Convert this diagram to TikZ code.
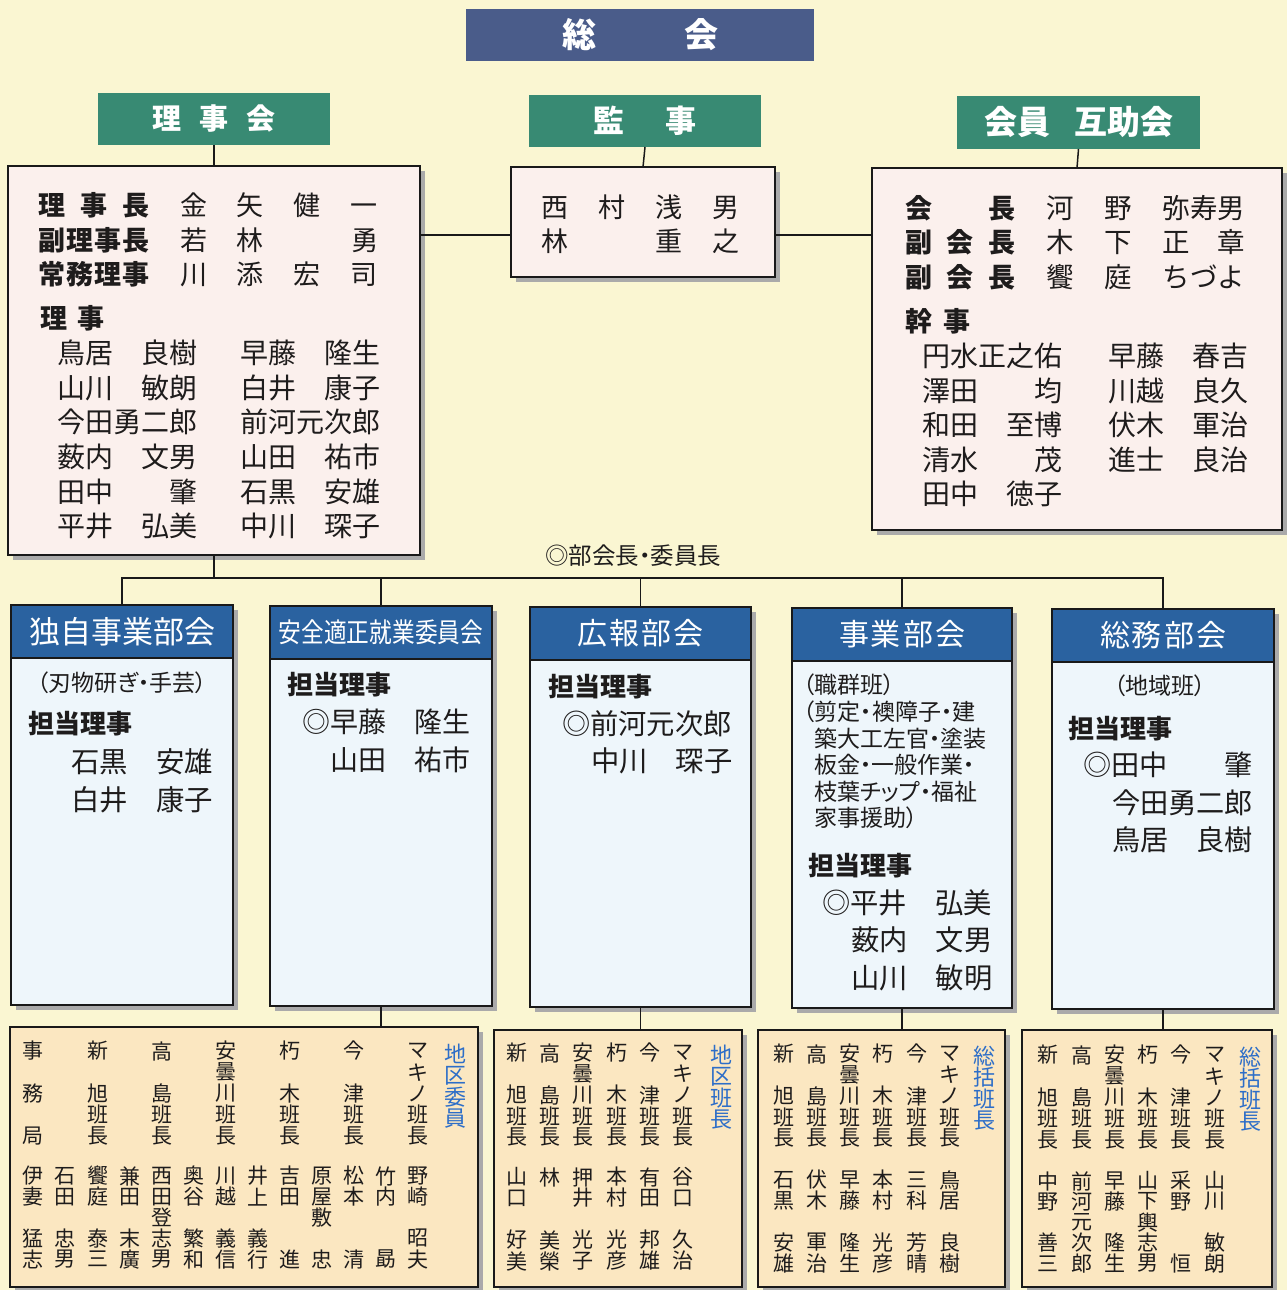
\documentclass[tikz,border=0pt]{standalone}
\usepackage{fontspec}
\newfontfamily\jp{Noto Sans CJK JP}
\newfontfamily\jpp[RawFeature=+palt]{Noto Sans CJK JP}
\usetikzlibrary{calc,shadows}
\definecolor{ink}{RGB}{30,28,28}
\definecolor{bg}{RGB}{250,246,210}
\definecolor{navy}{RGB}{74,92,138}
\definecolor{teal}{RGB}{56,138,115}
\definecolor{pinkf}{RGB}{251,240,237}
\definecolor{blueh}{RGB}{42,98,160}
\definecolor{bluef}{RGB}{238,246,251}
\definecolor{peach}{RGB}{251,231,193}
\definecolor{bluetxt}{RGB}{45,110,200}
\definecolor{shadowc}{RGB}{170,170,170}
\definecolor{linec}{RGB}{25,25,25}
\newcommand\fs[1]{\fontsize{#1}{#1}\selectfont}
\newcommand\spr[2]{\hbox to #1{#2}}
\newcommand\rbox[6][]{\node[#1, anchor=north west, inner sep=0pt, outer sep=0pt, minimum width={(#5-#3)*1pt}, minimum height={(#6-#4)*1pt}] (#2) at (#3,#4) {};}
\newcommand\vcolumn[6]{\foreach \vc [count=\vi from 0] in {#6}{\node[#2] (#1-\vi) at ({#3},{#4+\vi*#5}) {\vc};}}
\begin{document}
\begin{tikzpicture}[x=1pt,y=-1pt,
  every node/.style={inner sep=0pt, outer sep=0pt},
  headbox/.style={fill=#1},
  memberbox/.style={fill=pinkf, draw=linec, line width=1.8pt, general shadow={fill=shadowc, shadow xshift=5pt, shadow yshift=-5pt}},
  deptbody/.style={fill=bluef, draw=linec, line width=1.8pt, general shadow={fill=shadowc, shadow xshift=5pt, shadow yshift=-5pt}},
  depthead/.style={fill=blueh, draw=linec, line width=1.8pt},
  areabox/.style={fill=peach, draw=linec, line width=1.8pt, general shadow={fill=shadowc, shadow xshift=5pt, shadow yshift=-5pt}},
  conn/.style={draw=linec, line width=1.5pt},
  toptxt/.style={text=white, font=\jp\bfseries},
  headtxt/.style={text=white, font=\jp},
  lbl/.style={anchor=west, text=ink, font=\jp\bfseries\fs{27}},
  nm/.style={anchor=west, text=ink, font=\jp\fs{28}},
  small/.style={anchor=west, text=ink, font=\jpp\fs{23}},
  vch/.style={text=ink, font=\jp\fs{21}},
  vbl/.style={text=bluetxt, font=\jp\fs{22}}]
\path[use as bounding box, fill=bg] (0,0) rectangle (1287,1290);

% ---- top headers
\rbox[headbox=navy]{gs}{466}{9}{814}{61}
\node[toptxt] (gst) at (gs.center) {\fs{34}\spr{156pt}{総\hfil 会}};
\rbox[headbox=teal]{rjk}{98}{93}{330}{145}
\node[toptxt] (rjkt) at (rjk.center) {\fs{29}\spr{123pt}{理\hfil 事\hfil 会}};
\rbox[headbox=teal]{kj}{529}{95}{761}{147}
\node[toptxt] (kjt) at (kj.center) {\fs{31}\spr{103pt}{監\hfil 事}};
\rbox[headbox=teal]{gk}{957}{96}{1200}{149}
\node[toptxt] (gkt) at (gk.center) {\fs{33}会員\hspace{24pt}互助会};

% ---- member boxes
\rbox[memberbox]{rjb}{8}{166}{420}{555}
\rbox[memberbox]{kjb}{511}{167}{775}{277}
\rbox[memberbox]{gkb}{872}{168}{1282}{530}

\draw[conn] (rjk.south) -- (rjb.north);
\draw[conn] (kj.south) -- (kjb.north);
\draw[conn] (gk.south) -- (gkb.north);
\coordinate (hl) at (0,235);
\draw[conn] (rjb.east |- hl) -- (kjb.west |- hl);
\draw[conn] (kjb.east |- hl) -- (gkb.west |- hl);

% 理事会 text
\node[lbl] (r1) at (38,205) {\spr{112pt}{理\hfil 事\hfil 長}};
\node[lbl] (r2) at (38,240) {\spr{112pt}{副\hfil 理\hfil 事\hfil 長}};
\node[lbl] (r3) at (38,274) {\spr{112pt}{常\hfil 務\hfil 理\hfil 事}};
\node[nm,font=\jp\fs{27}] (r1n) at (180,205) {\spr{198pt}{金\hfil 矢\hfil 健\hfil 一}};
\node[nm,font=\jp\fs{27}] (r2n) at (180,240) {\spr{198pt}{若\hfil 林\hfil \phantom{林}\hfil 勇}};
\node[nm,font=\jp\fs{27}] (r3n) at (180,274) {\spr{198pt}{川\hfil 添\hfil 宏\hfil 司}};
\node[lbl] (r4) at (40,318) {\spr{65pt}{理\hfil 事}};
\node[nm] (ra1) at (57,353) {鳥居　良樹};
\node[nm] (ra2) at (57,388) {山川　敏朗};
\node[nm] (ra3) at (57,422) {今田勇二郎};
\node[nm] (ra4) at (57,457) {薮内　文男};
\node[nm] (ra5) at (57,492) {田中　　肇};
\node[nm] (ra6) at (57,526) {平井　弘美};
\node[nm] (rb1) at (240,353) {早藤　隆生};
\node[nm] (rb2) at (240,388) {白井　康子};
\node[nm] (rb3) at (240,422) {前河元次郎};
\node[nm] (rb4) at (240,457) {山田　祐市};
\node[nm] (rb5) at (240,492) {石黒　安雄};
\node[nm] (rb6) at (240,526) {中川　琛子};

% 監事 text
\node[nm,font=\jp\fs{27}] (k1) at (541,207) {\spr{199pt}{西\hfil 村\hfil 浅\hfil 男}};
\node[nm,font=\jp\fs{27}] (k2) at (541,241) {\spr{199pt}{林\hfil \phantom{村}\hfil 重\hfil 之}};

% 互助会 text
\node[lbl] (g1) at (905,208) {\spr{110pt}{会\hfil 長}};
\node[lbl] (g2) at (905,242) {\spr{110pt}{副\hfil 会\hfil 長}};
\node[lbl] (g3) at (905,277) {\spr{110pt}{副\hfil 会\hfil 長}};
\node[nm,font=\jp\fs{27.5}] (g1n) at (1046,208) {\spr{58pt}{河\hfil}\spr{59pt}{野\hfil}弥寿男};
\node[nm,font=\jp\fs{27.5}] (g2n) at (1046,242) {\spr{58pt}{木\hfil}\spr{59pt}{下\hfil}正　章};
\node[nm,font=\jp\fs{27.5}] (g3n) at (1046,277) {\spr{58pt}{饗\hfil}\spr{59pt}{庭\hfil}ちづよ};
\node[lbl] (g4) at (905,321) {\spr{65pt}{幹\hfil 事}};
\node[nm] (ga1) at (922,356) {円水正之佑};
\node[nm] (ga2) at (922,391) {澤田　　均};
\node[nm] (ga3) at (922,425) {和田　至博};
\node[nm] (ga4) at (922,460) {清水　　茂};
\node[nm] (ga5) at (922,494) {田中　徳子};
\node[nm] (gb1) at (1108,356) {早藤　春吉};
\node[nm] (gb2) at (1108,391) {川越　良久};
\node[nm] (gb3) at (1108,425) {伏木　軍治};
\node[nm] (gb4) at (1108,460) {進士　良治};

\node[anchor=west, text=ink, font=\jpp\fs{23.5}] (note) at (545,556) {◎部会長・委員長};

% ---- departments
\rbox[deptbody]{d1}{11}{605}{233}{1005}
\rbox[deptbody]{d2}{270}{606}{492}{1006}
\rbox[deptbody]{d3}{530}{607}{751}{1007}
\rbox[deptbody]{d4}{792}{608}{1012}{1008}
\rbox[deptbody]{d5}{1052}{609}{1274}{1009}
\rbox[depthead]{d1h}{11}{605}{233}{658}
\rbox[depthead]{d2h}{270}{606}{492}{659}
\rbox[depthead]{d3h}{530}{607}{751}{660}
\rbox[depthead]{d4h}{792}{608}{1012}{661}
\rbox[depthead]{d5h}{1052}{609}{1274}{662}
\node[headtxt] (d1t) at (d1h.center) {\fs{31}独自事業部会};
\node[headtxt,xscale=0.84] (d2t) at (d2h.center) {\fs{27}安全適正就業委員会};
\node[headtxt] (d3t) at (d3h.center) {\fs{30}\spr{126pt}{広\hfil 報\hfil 部\hfil 会}};
\node[headtxt] (d4t) at (d4h.center) {\fs{30}\spr{126pt}{事\hfil 業\hfil 部\hfil 会}};
\node[headtxt] (d5t) at (d5h.center) {\fs{30}\spr{126pt}{総\hfil 務\hfil 部\hfil 会}};

\coordinate (bus) at (0,578);
\draw[conn] (rjb.south) -- (rjb.south |- bus);
\draw[conn] (d1.north) -- (d1.north |- bus) -- (d5.north |- bus) -- (d5.north);
\draw[conn] (d2.north) -- (d2.north |- bus);
\draw[conn] (d3.north) -- (d3.north |- bus);
\draw[conn] (d4.north) -- (d4.north |- bus);

% d1
\node[small, anchor=center] (d1a) at (122,683) {（刃物研ぎ・手芸）};
\node[lbl,font=\jp\bfseries\fs{26}] (d1b) at (28,724) {担当理事};
\node[nm,font=\jp\fs{28.4}] (d1c) at (71,762) {石黒　安雄};
\node[nm,font=\jp\fs{28.4}] (d1d) at (71,800) {白井　康子};
% d2
\node[lbl,font=\jp\bfseries\fs{26}] (d2b) at (287,685) {担当理事};
\node[nm] (d2c) at (302,722) {◎早藤　隆生};
\node[nm] (d2d) at (330,760) {山田　祐市};
% d3
\node[lbl,font=\jp\bfseries\fs{26}] (d3b) at (548,687) {担当理事};
\node[nm,font=\jp\fs{28.3}] (d3c) at (562,724) {◎前河元次郎};
\node[nm,font=\jp\fs{28.3}] (d3d) at (591,761) {中川　琛子};
% d4
\node[small] (d4a) at (803,685) {（職群班）};
\node[small] (d4a2) at (803,712) {（剪定・襖障子・建};
\node[small] (d4a3) at (814,739) {築大工左官・塗装};
\node[small] (d4a4) at (814,765) {板金・一般作業・};
\node[small] (d4a5) at (814,792) {枝葉チップ・福祉};
\node[small] (d4a6) at (814,818) {家事援助）};
\node[lbl,font=\jp\bfseries\fs{26}] (d4b) at (808,866) {担当理事};
\node[nm,font=\jp\fs{28.3}] (d4c) at (822,903) {◎平井　弘美};
\node[nm,font=\jp\fs{28.3}] (d4d) at (851,940) {薮内　文男};
\node[nm,font=\jp\fs{28.3}] (d4e) at (851,978) {山川　敏明};
% d5
\node[small, anchor=center] (d5a) at (1160,686) {（地域班）};
\node[lbl,font=\jp\bfseries\fs{26}] (d5b) at (1068,729) {担当理事};
\node[nm,font=\jp\fs{28.2}] (d5c) at (1083,765) {◎田中　　肇};
\node[nm,font=\jp\fs{28.2}] (d5d) at (1112,803) {今田勇二郎};
\node[nm,font=\jp\fs{28.2}] (d5e) at (1112,840) {鳥居　良樹};

% ---- area boxes
\rbox[areabox]{b1}{10}{1027}{478}{1287}
\rbox[areabox]{b2}{494}{1030}{742}{1287}
\rbox[areabox]{b3}{758}{1030}{1005}{1287}
\rbox[areabox]{b4}{1022}{1030}{1272}{1287}
\draw[conn] (d2.south) -- (d2.south |- b1.north);
\draw[conn] (d3.south) -- (d3.south |- b2.north);
\draw[conn] (d4.south) -- (d4.south |- b3.north);
\draw[conn] (d5.south) -- (d5.south |- b4.north);

% b1
\vcolumn{b1h0}{vch}{33}{1051}{21.3}{事,,務,,局}
\vcolumn{b1h1}{vch}{98}{1051}{21.3}{新,,旭,班,長}
\vcolumn{b1h2}{vch}{162}{1051}{21.3}{高,,島,班,長}
\vcolumn{b1h3}{vch}{226}{1051}{21.3}{安,曇,川,班,長}
\vcolumn{b1h4}{vch}{290}{1051}{21.3}{朽,,木,班,長}
\vcolumn{b1h5}{vch}{354}{1051}{21.3}{今,,津,班,長}
\vcolumn{b1h6}{vch}{418}{1051}{21.3}{マ,キ,ノ,班,長}
\vcolumn{b1l}{vbl}{455}{1054}{21.5}{地,区,委,員}
\vcolumn{b1n0}{vch}{33}{1176}{20.8}{伊,妻,,猛,志}
\vcolumn{b1n1}{vch}{65}{1176}{20.8}{石,田,,忠,男}
\vcolumn{b1n2}{vch}{98}{1176}{20.8}{饗,庭,,泰,三}
\vcolumn{b1n3}{vch}{130}{1176}{20.8}{兼,田,,末,廣}
\vcolumn{b1n4}{vch}{162}{1176}{20.8}{西,田,登,志,男}
\vcolumn{b1n5}{vch}{194}{1176}{20.8}{奥,谷,,繁,和}
\vcolumn{b1n6}{vch}{226}{1176}{20.8}{川,越,,義,信}
\vcolumn{b1n7}{vch}{258}{1176}{20.8}{井,上,,義,行}
\vcolumn{b1n8}{vch}{290}{1176}{20.8}{吉,田,,,進}
\vcolumn{b1n9}{vch}{322}{1176}{20.8}{原,屋,敷,,忠}
\vcolumn{b1n10}{vch}{354}{1176}{20.8}{松,本,,,清}
\vcolumn{b1n11}{vch}{386}{1176}{20.8}{竹,内,,,勗}
\vcolumn{b1n12}{vch}{418}{1176}{20.8}{野,崎,,昭,夫}

% b2
\vcolumn{b2h0}{vch}{517}{1053}{21}{新,,旭,班,長}
\vcolumn{b2h1}{vch}{550}{1053}{21}{高,,島,班,長}
\vcolumn{b2h2}{vch}{583}{1053}{21}{安,曇,川,班,長}
\vcolumn{b2h3}{vch}{617}{1053}{21}{朽,,木,班,長}
\vcolumn{b2h4}{vch}{650}{1053}{21}{今,,津,班,長}
\vcolumn{b2h5}{vch}{683}{1053}{21}{マ,キ,ノ,班,長}
\vcolumn{b2l}{vbl}{721}{1055}{21.5}{地,区,班,長}
\vcolumn{b2n0}{vch}{517}{1177}{21}{山,口,,好,美}
\vcolumn{b2n1}{vch}{550}{1177}{21}{林,,,美,榮}
\vcolumn{b2n2}{vch}{583}{1177}{21}{押,井,,光,子}
\vcolumn{b2n3}{vch}{617}{1177}{21}{本,村,,光,彦}
\vcolumn{b2n4}{vch}{650}{1177}{21}{有,田,,邦,雄}
\vcolumn{b2n5}{vch}{683}{1177}{21}{谷,口,,久,治}

% b3
\vcolumn{b3h0}{vch}{784}{1054}{21}{新,,旭,班,長}
\vcolumn{b3h1}{vch}{817}{1054}{21}{高,,島,班,長}
\vcolumn{b3h2}{vch}{850}{1054}{21}{安,曇,川,班,長}
\vcolumn{b3h3}{vch}{883}{1054}{21}{朽,,木,班,長}
\vcolumn{b3h4}{vch}{917}{1054}{21}{今,,津,班,長}
\vcolumn{b3h5}{vch}{950}{1054}{21}{マ,キ,ノ,班,長}
\vcolumn{b3l}{vbl}{984}{1056}{21.5}{総,括,班,長}
\vcolumn{b3n0}{vch}{784}{1180}{20.8}{石,黒,,安,雄}
\vcolumn{b3n1}{vch}{817}{1180}{20.8}{伏,木,,軍,治}
\vcolumn{b3n2}{vch}{850}{1180}{20.8}{早,藤,,隆,生}
\vcolumn{b3n3}{vch}{883}{1180}{20.8}{本,村,,光,彦}
\vcolumn{b3n4}{vch}{917}{1180}{20.8}{三,科,,芳,晴}
\vcolumn{b3n5}{vch}{950}{1180}{20.8}{鳥,居,,良,樹}

% b4
\vcolumn{b4h0}{vch}{1048}{1055}{21.2}{新,,旭,班,長}
\vcolumn{b4h1}{vch}{1082}{1055}{21.2}{高,,島,班,長}
\vcolumn{b4h2}{vch}{1115}{1055}{21.2}{安,曇,川,班,長}
\vcolumn{b4h3}{vch}{1148}{1055}{21.2}{朽,,木,班,長}
\vcolumn{b4h4}{vch}{1181}{1055}{21.2}{今,,津,班,長}
\vcolumn{b4h5}{vch}{1215}{1055}{21.2}{マ,キ,ノ,班,長}
\vcolumn{b4l}{vbl}{1250}{1057}{21.5}{総,括,班,長}
\vcolumn{b4n0}{vch}{1048}{1181}{20.6}{中,野,,善,三}
\vcolumn{b4n1}{vch}{1082}{1181}{20.6}{前,河,元,次,郎}
\vcolumn{b4n2}{vch}{1115}{1181}{20.6}{早,藤,,隆,生}
\vcolumn{b4n3}{vch}{1148}{1181}{20.6}{山,下,輿,志,男}
\vcolumn{b4n4}{vch}{1181}{1181}{20.6}{采,野,,,恒}
\vcolumn{b4n5}{vch}{1215}{1181}{20.6}{山,川,,敏,朗}
\end{tikzpicture}
\end{document}
